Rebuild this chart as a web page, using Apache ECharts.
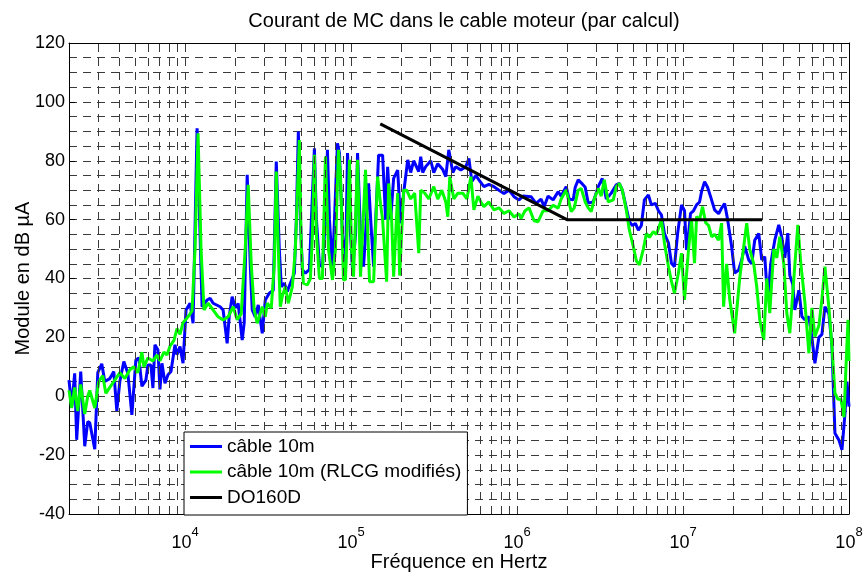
<!DOCTYPE html>
<html>
<head>
<meta charset="utf-8">
<script src="https://cdn.jsdelivr.net/npm/echarts@6/dist/echarts.min.js"></script>
<style>
html,body{margin:0;padding:0;background:#fff;}
#chart{width:865px;height:573px;}
</style>
</head>
<body>
<div id="chart"></div>
<script>
// ---- data (frequency in Hz, module in dB µA) ----
const freqBlue = [2000,2076,2164,2225,2353,2488,2594,2667,2859,2981,3151,3285,3523,3724,3882,4048,4279,4525,4784,5057,5273,5498,5813,5976,6232,6406,6587,6868,7061,7261,7571,7893,8229,8700,8945,9328,9725,
10140,10720,11180,11820,12670,13590,14160,14770,16270,16960,17940,18450,19230,20050,20900,22100,22730,23690,24700,25400,26480,27610,29190,30440,32180,34020,35460,36980,38030,39650,41340,43090,45560,46840,48160,49530,50930,53100,56140,57720,60190,61880,64520,67260,70140,72110,74150,77310,79490,82860,85200,88830,92640,95260,99310,
102100,106500,109500,114100,119000,127600,133000,136800,146600,155000,161600,166200,173300,180600,191000,199100,207600,219500,228800,238500,255800,263000,270400,281900,302300,315100,333200,357200,372400,388200,410400,427900,458700,491800,512900,534700,565300,589300,631800,677200,726100,778300,834600,894600,959200,
1028000,1087000,1215000,1302000,1396000,1456000,1539000,1650000,1769000,1845000,1978000,2062000,2180000,2242000,2337000,2436000,2576000,2685000,2879000,3086000,3263000,3450000,3698000,3964000,4133000,4309000,4556000,4750000,4954000,5164000,5383000,5612000,5852000,6186000,6450000,6818000,7112000,7415000,7731000,8174000,8521000,8884000,9265000,9792000,
10210000,10500000,10800000,11100000,11570000,12070000,12580000,12930000,13490000,14060000,14660000,15500000,16390000,17080000,17810000,18570000,19640000,20470000,21640000,22570000,23530000,24880000,25940000,27040000,28590000,29810000,31080000,32400000,33780000,35720000,37760000,39370000,41050000,42790000,44000000,45870000,47170000,49880000,52000000,54220000,57330000,59770000,62320000,65870000,68680000,71610000,75710000,78930000,82290000,86990000,90710000,94580000,97250000,100000000];
const valBlue = [5.5,-3.5,7.8,-14.8,8.4,-17,-8.6,-9,-18,8,11,5,6,8.4,-5,5,11.8,7.8,-6.3,12.4,13,3.4,5.5,10.6,10.6,2.8,17.5,15.7,2.3,11.2,4.4,7.3,8.4,17.5,14.1,16.9,11.2,
29.3,31.6,24.8,91,30.4,32.7,33.3,31.6,30.4,29.3,18,27,33.8,30,31.5,19.1,25,75.2,45,29.3,27,31,21.4,32.7,35,36,79.7,50,37.2,38.4,35.6,38.4,41.8,60,89.9,60,43,41.8,43,60,84.2,60,44.6,44,60,83.7,60,43,60,85.9,82.6,55,43,82.6,55,
43,55,82.6,55,44,72.3,55,44,81.9,81.9,60,77.9,60,74,76.8,58.7,69,80.3,76,80,76.3,81.4,76,78,80,76,79,77,74.6,83.7,76,78,76.9,78,80.8,73,75,73.5,71.2,72,71.2,70,68.9,70,67.8,
66.7,68,67.8,65.5,67,64.4,68,66.7,69.5,68,71.2,67,66.7,71,73.5,72.5,71,65.6,66,71.2,74,67,69,71.8,72.3,70,63.9,59.3,58,58.7,56.4,58,66.7,68.4,65,65.5,63,61.6,55.3,52,45.2,44,55,65,
63,49.7,55,62.1,63,65,66,69.5,72.9,71,67.8,63.3,62,63.9,65.5,60,50.8,41.8,42.9,46.3,51,46.3,45,53,55.3,46.3,47.4,32.7,45,53,58.2,54,47,55.4,41,38,29.3,36,27.1,26,27,20,11.2,20,21,30.4,28,16.9,-12.6,-14.9,-18.2,-5.8,5,-3.5];

const freqGreen = [2000,2076,2164,2257,2353,2488,2594,2667,2859,3023,3195,3332,3523,3724,4048,4340,4653,4918,5200,5498,5653,5976,6406,6772,7061,7466,7783,8116,8580,8945,9328,9725,
10425,11020,11490,11980,12490,13020,13770,14770,15830,16960,18190,19500,20620,21800,23040,24020,25050,26110,27230,29190,30440,31300,33080,34500,35460,36460,37500,38560,40200,41920,44310,46200,48840,50220,51640,54600,56930,58540,60190,61880,64520,67260,70140,73110,77310,80590,84030,86410,90080,92640,97930,
100700,103500,109500,114100,122300,129300,136800,144600,150800,155000,163900,168500,175700,180600,191000,196400,207600,216400,228800,241900,255800,263000,278000,294000,315100,333200,352300,372400,382900,393700,416200,440000,471700,498800,527400,549800,581300,606000,631800,677200,726100,778300,834600,894600,959200,
1028000,1057000,1118000,1182000,1267000,1339000,1436000,1539000,1650000,1769000,1845000,1978000,2120000,2211000,2337000,2436000,2576000,2685000,2800000,2920000,3086000,3218000,3355000,3546000,3802000,3964000,4133000,4309000,4556000,4750000,5022000,5236000,5459000,5771000,6017000,6273000,6632000,6914000,7415000,7731000,8174000,8521000,8884000,9394000,9792000,
10210000,10800000,11250000,11730000,12070000,12580000,13120000,13680000,14260000,14870000,15500000,16390000,17080000,17560000,18310000,19100000,20470000,21950000,23210000,24190000,25230000,26670000,27810000,28990000,30650000,31950000,33320000,35230000,36730000,38290000,40480000,42210000,44000000,46530000,49180000,51290000,54220000,57330000,59770000,62320000,65870000,68680000,71610000,75710000,78930000,82290000,85800000,89450000,93280000,95920000,98630000,100000000];
const valGreen = [2,-4,3,-5,4,-6,0,2,-4,5,7,1,3,5,8,6,9,10,8,15,10,13,12,14,12,15,14,17,19,23,21,25,
27,29,50,89.3,50,29.3,31.6,29.3,27,25.9,27,30.4,26,28,50,71.8,45,29.3,24.8,30.4,27,31.6,30,45,76.3,50,30.4,34,37.2,31.6,37.2,50,87,50,38.4,37.8,40,55,82,55,40,40,81.4,50,39.5,50,83.7,75,39.5,39.7,80.3,
50,40.6,80.3,40.6,76.9,38.9,38.9,74.6,65,60,38.9,72.3,60,40.6,69,41,70,70,67,69,48.6,70,69,67,71.2,67,70,66,61,74.6,67,69,69,67,74.6,63.3,68,66,64.4,66,63.3,64,62.1,63,60.9,
62,60.4,63,64,59.6,59.3,63,63,64.9,63.9,67,70.1,62.7,64,70,70.6,66,64,62.7,67,70.6,68,73.5,66,66.7,71.2,72.3,70,63.2,56.5,50.8,46,44.6,50,55.3,54,55.9,55,59.9,52,44,39,35,42,48.6,
32.7,50,60,45.2,61,60,64.4,59,58,54.2,55,53,58.8,30.4,45,33,21.4,40,50.8,58.8,50,45,37.2,26,19.1,40,28.2,50,47,54.2,45,28.2,21.4,40,58.2,45,32,14.6,30,20.3,24,33,44,30,17,1,-1,-1,-7.1,10,26,12];

const freqDO160 = [150000, 2000000, 30000000];
const valDO160 = [92.5, 60, 60];

const seriesNames = ['câble 10m', 'câble 10m (RLCG modifiés)', 'DO160D'];
const yTicks = [-40, -20, 0, 20, 40, 60, 80, 100, 120];
const xDecades = [4, 5, 6, 7, 8];

// ---- build ----
function zip(f, v) { return f.map((x, i) => [x, v[i]]); }
const FONT = 'Liberation Sans, Arial, Helvetica, sans-serif';
const gridDash = { color: '#3a3a3a', width: 1, type: [8, 6] };

// vertical grid lines at 1..9 x 10^k (log minor grid, as on a MATLAB log axis)
const vGrid = [];
for (let k = 3; k <= 7; k++) {
  for (let m = 1; m <= 9; m++) {
    const f = m * Math.pow(10, k);
    if (f > 2000 && f < 1e8) vGrid.push({ xAxis: f });
  }
}

const chart = echarts.init(document.getElementById('chart'), null, { renderer: 'canvas' });
const axisLabelX = {
  margin: 8,
  formatter: function (v) {
    const e = Math.log10(v);
    const r = Math.round(e);
    if (Math.abs(e - r) > 1e-6 || xDecades.indexOf(r) < 0) return '';
    return '{b|10}{s|' + r + '}';
  },
  rich: {
    b: { fontSize: 18, fontFamily: FONT, color: '#000', lineHeight: 30, verticalAlign: 'bottom' },
    s: { fontSize: 13, fontFamily: FONT, color: '#000', lineHeight: 14, verticalAlign: 'top', padding: [4, 0, 0, 0] }
  }
};

chart.setOption({
  animation: false,
  backgroundColor: '#fff',
  title: {
    text: 'Courant de MC dans le cable moteur (par calcul)',
    left: 459, top: 6, textAlign: 'center',
    textStyle: { fontFamily: FONT, fontSize: 20, fontWeight: 'normal', color: '#000' }
  },
  grid: { left: 69, right: 16, top: 43, bottom: 59, containLabel: false, outerBoundsMode: 'none' },
  legend: {
    data: seriesNames,
    orient: 'vertical',
    left: 184, top: 432,
    z: 50, zlevel: 0,
    padding: [5, 6, 8, 6],
    itemGap: 6.5,
    itemWidth: 32, itemHeight: 3,
    icon: 'rect',
    backgroundColor: '#ffffff',
    borderColor: '#000', borderWidth: 1,
    textStyle: { fontFamily: FONT, fontSize: 19, color: '#000', lineHeight: 19 }
  },
  xAxis: [{
    type: 'log', logBase: 10, min: 2000, max: 1e8,
    position: 'bottom',
    name: 'Fréquence en Hertz', nameLocation: 'middle', nameGap: 38, nameMoveOverlap: false,
    nameTextStyle: { fontFamily: FONT, fontSize: 20, color: '#000' },
    axisLine: { show: true, onZero: false, lineStyle: { color: '#000', width: 1 } },
    axisTick: { show: true, inside: true, length: 6, lineStyle: { color: '#000' } },
    axisLabel: axisLabelX,
    splitLine: { show: false }
  }, {
    type: 'log', logBase: 10, min: 2000, max: 1e8,
    position: 'top',
    axisLine: { show: true, onZero: false, lineStyle: { color: '#000', width: 1 } },
    axisTick: { show: true, inside: true, length: 6, lineStyle: { color: '#000' } },
    axisLabel: { show: false },
    splitLine: { show: false }
  }],
  yAxis: [{
    type: 'value', min: yTicks[0], max: yTicks[yTicks.length - 1], interval: 20,
    position: 'left',
    name: 'Module en dB µA', nameLocation: 'middle', nameGap: 36, nameRotate: 90, nameMoveOverlap: false,
    nameTextStyle: { fontFamily: FONT, fontSize: 20, color: '#000' },
    axisLine: { show: true, onZero: false, lineStyle: { color: '#000', width: 1 } },
    axisTick: { show: true, inside: true, length: 6, lineStyle: { color: '#000' } },
    axisLabel: { fontFamily: FONT, fontSize: 18, color: '#000', margin: 4 },
    splitLine: { show: true, lineStyle: gridDash },
    minorTick: { show: false, splitNumber: 4 },
    minorSplitLine: { show: true, lineStyle: gridDash }
  }, {
    type: 'value', min: yTicks[0], max: yTicks[yTicks.length - 1], interval: 20,
    position: 'right',
    axisLine: { show: true, onZero: false, lineStyle: { color: '#000', width: 1 } },
    axisTick: { show: true, inside: true, length: 6, lineStyle: { color: '#000' } },
    axisLabel: { show: false },
    splitLine: { show: false }
  }],
  series: [{
    name: 'grid', type: 'line', data: [], z: 1, silent: true,
    markLine: {
      silent: true, symbol: ['none', 'none'], animation: false,
      label: { show: false },
      lineStyle: gridDash,
      emphasis: { disabled: true },
      data: vGrid
    }
  }, {
    name: seriesNames[0], type: 'line', z: 3,
    data: zip(freqBlue, valBlue),
    showSymbol: false, symbol: 'none',
    lineStyle: { color: '#0000ff', width: 3 },
    itemStyle: { color: '#0000ff' }
  }, {
    name: seriesNames[1], type: 'line', z: 4,
    data: zip(freqGreen, valGreen),
    showSymbol: false, symbol: 'none',
    lineStyle: { color: '#00ff00', width: 3 },
    itemStyle: { color: '#00ff00' }
  }, {
    name: seriesNames[2], type: 'line', z: 5,
    data: zip(freqDO160, valDO160),
    showSymbol: false, symbol: 'none',
    lineStyle: { color: '#000000', width: 3 },
    itemStyle: { color: '#000000' }
  }]
});
</script>
</body>
</html>
